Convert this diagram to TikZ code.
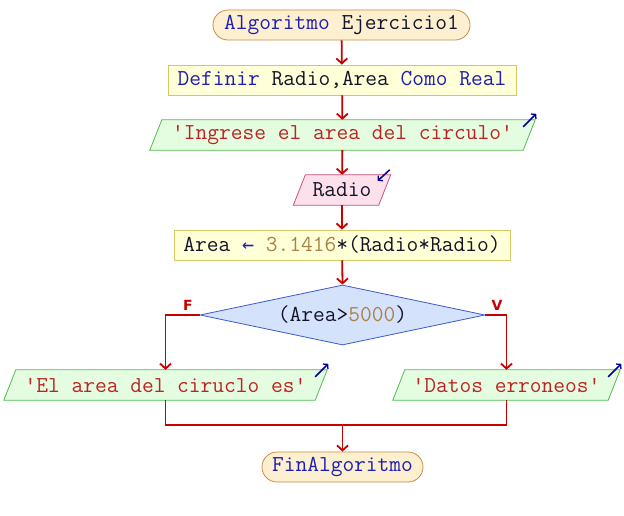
\documentclass[tikz,border=0pt]{standalone}
\usepackage{fontspec}
\newfontfamily\codefont{Latin Modern Mono}
\newfontfamily\arrowfont{DejaVu Sans Mono}
\newfontfamily\lblfont{DejaVu Sans}
\usetikzlibrary{arrows.meta,shapes.geometric,backgrounds}
\definecolor{kwC}{RGB}{30,30,180}
\definecolor{txC}{RGB}{20,20,40}
\definecolor{strC}{RGB}{190,35,35}
\definecolor{numC}{RGB}{170,130,70}
\definecolor{arrC}{RGB}{200,0,0}
\definecolor{icC}{RGB}{0,0,150}
\definecolor{termF}{RGB}{253,240,208}
\definecolor{termB}{RGB}{200,140,70}
\definecolor{procF}{RGB}{255,255,216}
\definecolor{procB}{RGB}{210,200,100}
\definecolor{outF}{RGB}{228,252,224}
\definecolor{outB}{RGB}{80,190,80}
\definecolor{inF}{RGB}{252,224,236}
\definecolor{inB}{RGB}{200,80,130}
\definecolor{diaF}{RGB}{212,226,252}
\definecolor{diaB}{RGB}{60,90,200}
\newcommand\cKw[1]{\textcolor{kwC}{#1}}
\newcommand\cTx[1]{\textcolor{txC}{#1}}
\newcommand\cStr[1]{\textcolor{strC}{#1}}
\newcommand\cNum[1]{\textcolor{numC}{#1}}
\newcommand\myPara[3]{%
  \begin{scope}[on background layer]
    \draw[fill=#2,draw=#3,line width=0.8] ([xshift=6]#1.north west) -- ([xshift=6]#1.north east) -- ([xshift=-6]#1.south east) -- ([xshift=-6]#1.south west) -- cycle;
  \end{scope}}
\tikzset{
  term/.style={draw=termB, fill=termF, rounded corners=15, minimum height=30, inner sep=0, line width=0.8},
  proc/.style={draw=procB, fill=procF, minimum height=30, inner sep=0, line width=0.8},
  iobox/.style={minimum height=30, inner sep=0},
  dia/.style={diamond, draw=diaB, fill=diaF, minimum width=285, minimum height=60, inner sep=0, line width=0.8},
  arr/.style={draw=arrC, line width=1.8, -{Straight Barb[length=5,width=11,line width=1.8]}},
  plainline/.style={draw=arrC, line width=1.8},
  icon/.style={draw=icC, line width=1.5, -{Straight Barb[length=3,width=7,line width=1.3]}},
  lbl/.style={font=\lblfont\bfseries\fontsize{14}{16}\selectfont, text=arrC, inner sep=0}
}
\begin{document}
\begin{tikzpicture}[x=1pt,y=-1pt,font=\codefont\fontsize{22.8}{26}\selectfont]
\begin{scope}[on background layer]
\fill[white] (0,0) rectangle (624,515);
\end{scope}
\useasboundingbox (0,0) rectangle (624,515);

\node[term, minimum width=257] (start) at (341.5,25) {\cKw{Algoritmo} \cTx{Ejercicio1}};
\node[proc, minimum width=348] (def) at (342,80) {\cKw{Definir} \cTx{Radio,Area} \cKw{Como} \cKw{Real}};
\node[iobox, minimum width=373] (out1) at (342.5,135) {\cStr{'Ingrese el area del circulo'}};
\myPara{out1}{outF}{outB}
\node[iobox, minimum width=85] (in1) at (342,190) {\cTx{Radio}};
\myPara{in1}{inF}{inB}
\node[proc, minimum width=336] (asg) at (342,245) {\cTx{Area} \textcolor{kwC}{\arrowfont\fontsize{20}{24}\selectfont ←} \cNum{3.1416}\cTx{*(Radio*Radio)}};
\node[dia] (d) at (342.5,315) {};
\node (dtext) at (d.center) {\cTx{(Area>}\cNum{5000}\cTx{)}};
\node[iobox, minimum width=311] (outL) at (165.5,385) {\cStr{'El area del ciruclo es'}};
\myPara{outL}{outF}{outB}
\node[iobox, minimum width=215] (outR) at (506.5,385) {\cStr{'Datos erroneos'}};
\myPara{outR}{outF}{outB}
\node[term, minimum width=161] (fin) at (342.5,467) {\cKw{FinAlgoritmo}};
\coordinate (j) at (342.5,425);

\node[lbl] (F) at (188,305) {F};
\node[lbl] (V) at (497,305) {V};

\draw[arr] (start) -- (def);
\draw[arr] (def) -- (out1);
\draw[arr] (out1) -- (in1);
\draw[arr] (in1) -- (asg);
\draw[arr] (asg) -- (d.north);
\draw[arr] (d.west) -| (outL.north);
\draw[arr] (d.east) -| (outR.north);
\draw[plainline] (outL.south) |- (j);
\draw[plainline] (outR.south) |- (j);
\draw[arr] (j) -- (fin.north);

\draw[icon] ([shift={(-6,7)}]out1.north east) -- ([shift={(7,-6)}]out1.north east);
\draw[icon] ([shift={(5,-5)}]in1.north east) -- ([shift={(-7,6)}]in1.north east);
\draw[icon] ([shift={(-6,7)}]outL.north east) -- ([shift={(7,-6)}]outL.north east);
\draw[icon] ([shift={(-6,7)}]outR.north east) -- ([shift={(7,-6)}]outR.north east);
\end{tikzpicture}
\end{document}
